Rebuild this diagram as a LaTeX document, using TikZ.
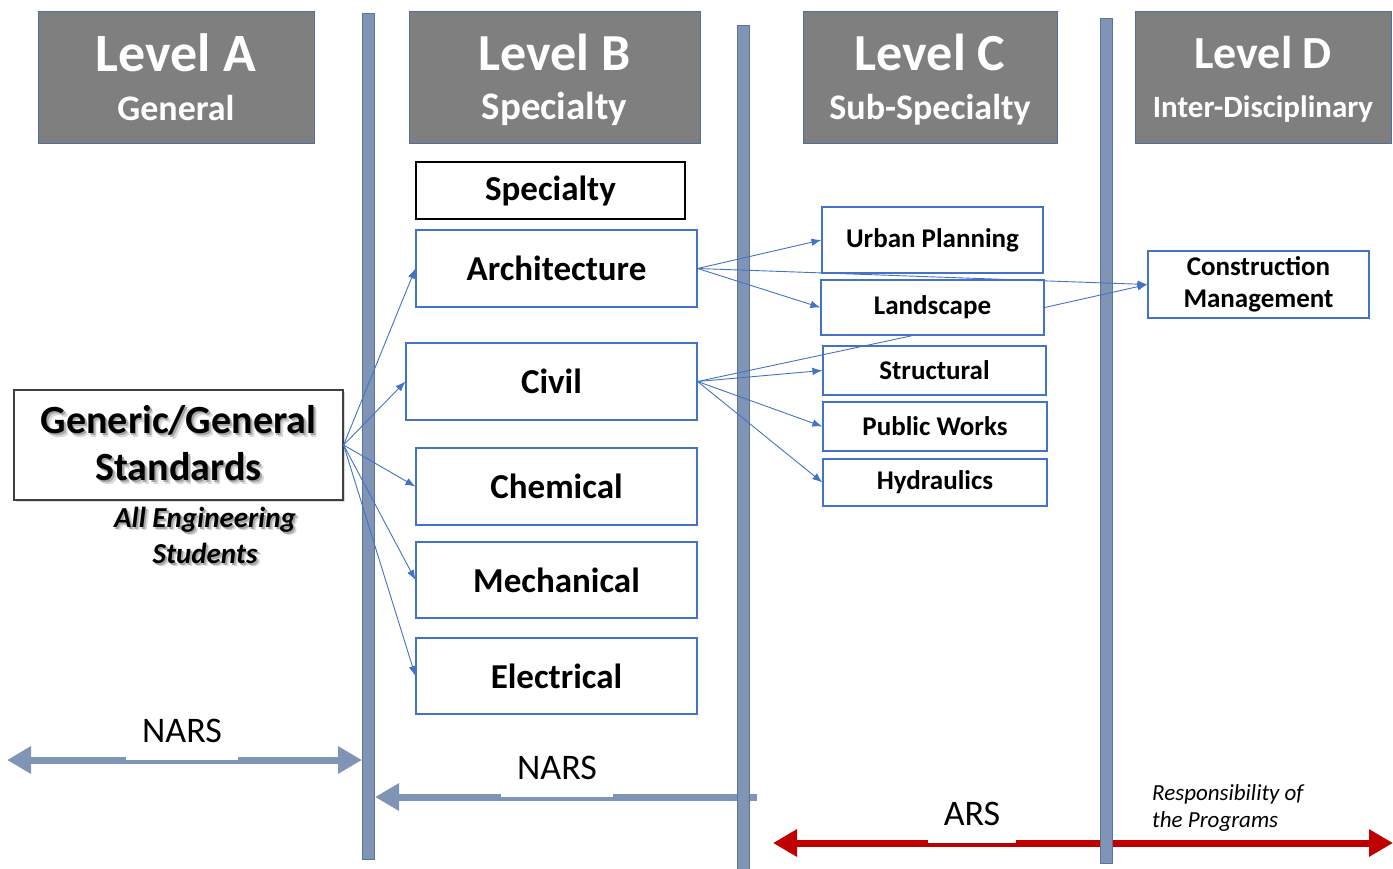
\documentclass[tikz,border=0pt]{standalone}
\usepackage{fontspec}
\setmainfont{Carlito}
\usetikzlibrary{calc}
\usetikzlibrary{positioning}
\usetikzlibrary{arrows.meta}
\usetikzlibrary{shadows}
\usetikzlibrary{backgrounds}
\definecolor{hdrgray}{RGB}{127,127,127}
\definecolor{hdrline}{RGB}{84,110,155}
\definecolor{barblue}{RGB}{128,149,182}
\definecolor{barline}{RGB}{92,115,158}
\definecolor{linkblue}{RGB}{68,114,196}
\definecolor{arsred}{RGB}{192,0,0}
% 影付き文字
\newcommand{\shtext}[1]{\makebox[0pt][l]{\hspace{3.5pt}\raisebox{-3.5pt}{\textcolor{black!15}{#1}}}\makebox[0pt][l]{\hspace{1.8pt}\raisebox{-1.8pt}{\textcolor{black!35}{#1}}}#1}

\begin{document}
\begin{tikzpicture}[x=1pt,y=-1pt]
      \tikzset{hdr/.style={draw=hdrline, fill=hdrgray, text=white, font=\fontsize{36}{46}\selectfont\bfseries,
        align=center, minimum height=132, inner sep=0pt, text depth=0pt}};
      \tikzset{bbox/.style={draw=linkblue, line width=1.2pt, fill=white, font=\fontsize{35}{40}\selectfont\bfseries,
        minimum width=281, minimum height=77, inner sep=0pt}};
      \tikzset{cbox/.style={draw=linkblue, line width=1.2pt, fill=white, font=\fontsize{27}{32}\selectfont\bfseries,
        minimum width=223, inner sep=0pt, align=center}};
      \tikzset{bar/.style={draw=barline, line width=1pt, fill=barblue, minimum width=12, inner sep=0pt}};
      \tikzset{link/.style={linkblue, line width=0.9pt, -{Latex[length=10pt,width=7.5pt]}}};
      \tikzset{band/.style={line width=7pt, barblue}};
      \tikzset{bigtip/.tip={Triangle[length=24pt,width=26pt]}};
      \tikzset{tag/.style={fill=white, font=\fontsize{36}{40}\selectfont, inner xsep=16pt, inner ysep=17pt, anchor=south}};
      \useasboundingbox (0,0) rectangle (1393,868);

      % 縦の区切り
      \node[bar, minimum height=846] (barA) at (368.5,436) {};
      \node[bar, minimum height=845] (barB) at (743.5,447.5) {};
      \node[bar, minimum height=845] (barC) at (1106.5,440.5) {};

      % 見出し
      \node[hdr, minimum width=276] (lvA) at (176,77) {{\fontsize{54}{54}\selectfont Level A}\\[3pt]General};
      \node[hdr, minimum width=291] (lvB) at (554.5,77) {{\fontsize{52}{52}\selectfont Level B}\\[3pt]{\fontsize{39}{46}\selectfont Specialty}};
      \node[hdr, minimum width=254] (lvC) at (930,77) {{\fontsize{52}{52}\selectfont Level C}\\[3pt]Sub-Specialty};
      \node[hdr, minimum width=256] (lvD) at (1263,77) {{\fontsize{46}{46}\selectfont Level D}\\[3pt]{\fontsize{31}{46}\selectfont Inter-Disciplinary}};

      % 共通基準
      \node[draw=black!75, line width=1.2pt, fill=white, drop shadow={opacity=0.3, shadow xshift=2pt, shadow yshift=-2pt},
        minimum width=329, minimum height=110, align=center, font=\fontsize{40}{47}\selectfont\bfseries]
        (gen) at (178.5,445) {\shtext{Generic/General}\\\shtext{Standards}};
      \node[font=\fontsize{29}{36}\selectfont\bfseries\itshape, align=center] (allst) at (205,537)
        {\shtext{All Engineering}\\\shtext{Students}};

      % 専門分野
      \node[bbox, draw=black, minimum width=269, minimum height=57] (spec) at (550.5,190.5) {Specialty};
      \node[bbox] (arch) at (556.5,268.5) {Architecture};
      \node[bbox, minimum width=291] (civil) at (551.5,381.5) {Civil};
      \node[bbox] (chem) at (556.5,486.5) {Chemical};
      \node[bbox, minimum height=76] (mech) at (556.5,580) {Mechanical};
      \node[bbox, minimum height=76] (elec) at (556.5,676) {Electrical};

      % 下位分野
      \node[cbox, minimum width=221, minimum height=66] (urban) at (932.5,240) {Urban Planning};
      \node[cbox, minimum height=55] (land) at (932.5,307.5) {Landscape};
      \node[cbox, minimum height=49] (struct) at (934.5,370.5) {Structural};
      \node[cbox, minimum width=224, minimum height=49] (pubw) at (935,426.5) {Public Works};
      \node[cbox, minimum width=224, minimum height=47] (hydr) at (935,482.5) {Hydraulics};
      \node[cbox, minimum width=221, minimum height=67] (cm) at (1258.5,284.5) {Construction\\Management};

      % Generic からのパス
      \draw[link] (gen.east)--(arch.west);
      \draw[link] (gen.east)--(civil.west);
      \draw[link] (gen.east)--(chem.west);
      \draw[link] (gen.east)--(mech.west);
      \draw[link] (gen.east)--(elec.west);

      % Architecture / Civil からのパス
      \draw[link] (arch.east)--(urban.west);
      \draw[link] (arch.east)--(land.west);
      \draw[link] (arch.east)--(cm.west);
      \draw[link] (land.east)--(cm.west);
      \draw[link, -] (civil.east)--($(land.south)+(-20,0)$);
      \draw[link] (civil.east)--(struct.west);
      \draw[link] (civil.east)--(pubw.west);
      \draw[link] (civil.east)--(hydr.west);

      % 下の太い矢印
      \coordinate (narsL) at (7,760);
      \coordinate (narsR) at (757,797);
      \coordinate (arsL) at (773,843);
      \coordinate (arsR) at (1393,843);
      \begin{scope}[on background layer]
        \draw[band, bigtip-bigtip] (narsL)--(narsL -| barA.west);
        \node[tag] (nars1) at (182,760) {NARS};
        \draw[band, -bigtip] (narsR)--(narsR -| barA.east);
        \node[tag] (nars2) at (557,797) {NARS};
        \draw[band, arsred, bigtip-bigtip] (arsL)--(arsR);
        \node[tag] (ars) at (972,843) {ARS};
      \end{scope}
      \node[font=\fontsize{23}{27}\selectfont\itshape, align=left, anchor=north west, inner sep=0pt]
        (resp) at (1152,784) {Responsibility of\\the Programs};
\end{tikzpicture}
\end{document}
